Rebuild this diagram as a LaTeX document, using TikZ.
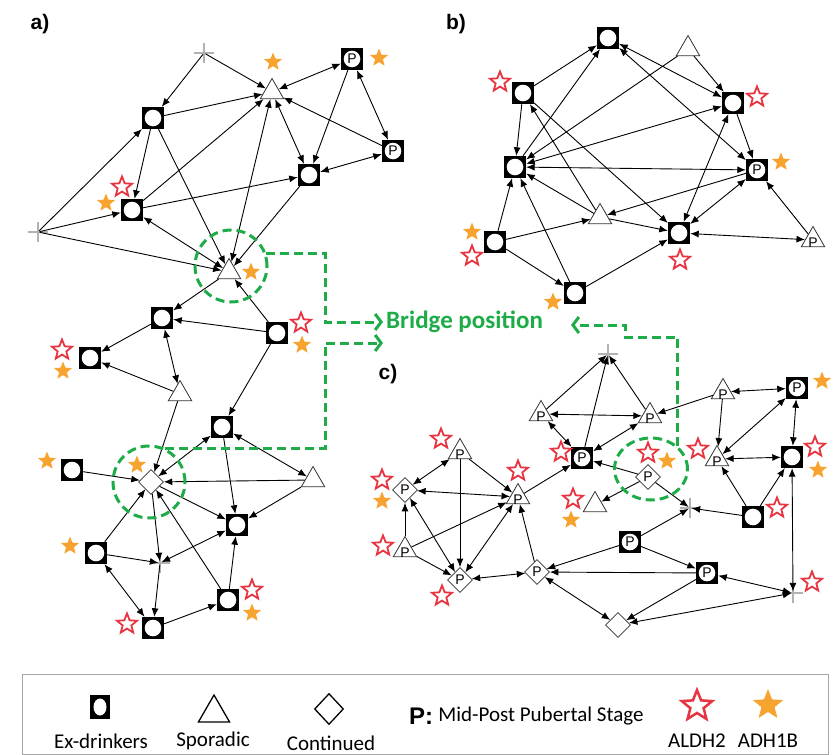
\documentclass[tikz,border=0pt]{standalone}
\usepackage{fontspec}
\setmainfont{Carlito}
\newfontfamily\arialfont{Liberation Sans}
\usetikzlibrary{arrows.meta,positioning,shapes.geometric}
\definecolor{aldhred}{RGB}{232,52,64}
\definecolor{adhorange}{RGB}{247,163,47}
\definecolor{bridgegreen}{RGB}{30,172,72}
\newcommand{\pmarkfont}{\arialfont\fontsize{14}{14}\selectfont}

\tikzset{
  exdrinker/.style={rectangle, fill=black, minimum size=22pt, inner sep=0pt, font=\pmarkfont,
    path picture={\fill[white] (path picture bounding box.center) circle (8.3pt);}},
  sporadic/.style={regular polygon, regular polygon sides=3, draw=black!80, fill=white,
    line width=0.8pt, minimum size=27pt, inner sep=0pt},
  ptri/.style={sporadic, label={[font=\pmarkfont, inner sep=0pt, yshift=-3pt]center:P}},
  continued/.style={diamond, draw=black!80, fill=white, line width=0.8pt, minimum size=25pt,
    inner sep=0pt, font=\pmarkfont},
  crossmark/.style={circle, inner sep=0pt, minimum size=3pt},
  crossline/.style={draw=gray!60, line width=1.2pt},
  aldh/.style={star, star points=5, star point ratio=2.3, draw=aldhred, line width=1.8pt,
    fill=white, minimum size=21pt, inner sep=0pt},
  adh/.style={star, star points=5, star point ratio=2.3, fill=adhorange, minimum size=19pt, inner sep=0pt},
  link/.style={-{Latex[length=8.5pt,width=7pt]}, line width=0.9pt},
  link2/.style={{Latex[length=8.5pt,width=7pt]}-{Latex[length=8.5pt,width=7pt]}, line width=0.9pt},
  ring/.style={draw=bridgegreen, line width=3pt, dash pattern=on 9pt off 5pt, inner sep=0pt},
  bridgeline/.style={draw=bridgegreen, line width=3pt, dash pattern=on 9pt off 5pt,
    -{Straight Barb[length=6pt,width=16pt]}},
  panellabel/.style={font=\arialfont\bfseries\fontsize{21}{21}\selectfont},
  legendtext/.style={font=\fontsize{21}{21}\selectfont, inner sep=1pt}
}

\begin{document}
\begin{tikzpicture}[x=1pt, y=-1pt]
  \useasboundingbox (0,0) rectangle (836,755);

  % Panel labels
  \node[panellabel] (lab_a) at (40,24) {a)};
  \node[panellabel] (lab_b) at (456,24) {b)};
  \node[panellabel] (lab_c) at (388,374) {c)};

  % ---- a) ----
  \node[crossmark] (a_x1) at (204,53) {};
  \node[sporadic] (a_t1) at (272,92) {};
  \node[exdrinker] (a_p1) at (352,59) {P};
  \node[exdrinker] (a_s1) at (153,118) {};
  \node[exdrinker] (a_p2) at (393,151) {P};
  \node[exdrinker] (a_s2) at (309,175) {};
  \node[exdrinker] (a_s3) at (132,210) {};
  \node[crossmark] (a_x2) at (38,232) {};
  \node[sporadic] (a_t2) at (229,272) {};
  \node[exdrinker] (a_s4) at (162,318) {};
  \node[exdrinker] (a_s5) at (277,333) {};
  \node[exdrinker] (a_s6) at (90,358) {};
  \node[sporadic] (a_t3) at (180,394) {};
  \node[exdrinker] (a_s7) at (222,427) {};
  \node[exdrinker] (a_s8) at (72,470) {};
  \node[continued] (a_d1) at (151,482) {};
  \node[sporadic] (a_t4) at (313,480) {};
  \node[exdrinker] (a_s9) at (237,525) {};
  \node[exdrinker] (a_s10) at (96,553) {};
  \node[crossmark] (a_x3) at (160,563) {};
  \node[exdrinker] (a_s11) at (228,600) {};
  \node[exdrinker] (a_s12) at (153,628) {};

  % ---- b) ----
  \node[exdrinker] (b_s1) at (608,38) {};
  \node[sporadic] (b_t1) at (688,49) {};
  \node[exdrinker] (b_s2) at (523,93) {};
  \node[exdrinker] (b_s3) at (733,103) {};
  \node[exdrinker] (b_s4) at (515,167) {};
  \node[exdrinker] (b_p1) at (757,170) {P};
  \node[sporadic] (b_t2) at (600,217) {};
  \node[exdrinker] (b_s5) at (495,242) {};
  \node[exdrinker] (b_s6) at (679,233) {};
  \node[ptri] (b_t3) at (813,240) {};
  \node[exdrinker] (b_s7) at (575,293) {};

  % ---- c) ----
  \node[crossmark] (c_x1) at (608,354) {};
  \node[ptri] (c_t1) at (541,414) {};
  \node[ptri] (c_t2) at (650,416) {};
  \node[ptri] (c_t3) at (723,392) {};
  \node[exdrinker] (c_p1) at (797,388) {P};
  \node[exdrinker] (c_p2) at (582,458) {P};
  \node[continued] (c_d1) at (648,477) {P};
  \node[ptri] (c_t4) at (717,459) {};
  \node[exdrinker] (c_s1) at (792,457) {};
  \node[ptri] (c_t5) at (460,452) {};
  \node[continued] (c_d2) at (405,490) {P};
  \node[ptri] (c_t6) at (518,497) {};
  \node[sporadic] (c_t7) at (595,505) {};
  \node[crossmark] (c_x2) at (690,508) {};
  \node[exdrinker] (c_s2) at (753,517) {};
  \node[ptri] (c_t8) at (405,550) {};
  \node[exdrinker] (c_p3) at (630,542) {P};
  \node[continued] (c_d3) at (460,580) {P};
  \node[continued] (c_d4) at (537,572) {P};
  \node[exdrinker] (c_p4) at (707,573) {P};
  \node[crossmark] (c_x3) at (793,593) {};
  \node[continued] (c_d5) at (618,625) {};

  % Crosses
  \foreach \c in {a_x1,a_x2,a_x3,c_x1,c_x2,c_x3}
    \draw[crossline] ([xshift=-10pt]\c.center) -- ([xshift=10pt]\c.center)
                     ([yshift=-10pt]\c.center) -- ([yshift=10pt]\c.center);

  % Links, one way
  \foreach \u/\v in {a_x1/a_s1, a_x1/a_t1, a_x2/a_s1, a_x2/a_s3, a_x2/a_t2, a_s1/a_s3, a_s1/a_t1,
      a_s1/a_t2, a_s3/a_t1, a_s3/a_s2, a_s2/a_t2, a_p1/a_s2, a_p2/a_t1, a_t2/a_s4, a_s5/a_t2,
      a_s5/a_s4, a_s4/a_s6, a_t3/a_s6, a_t3/a_d1, a_s5/a_s7, a_t4/a_d1, a_s7/a_s9, a_t4/a_s9,
      a_d1/a_s9, a_s8/a_d1, a_s10/a_d1, a_s10/a_x3, a_d1/a_x3, a_x3/a_s12, a_s12/a_s11,
      a_s11/a_s9, a_s11/a_d1,
      b_s2/b_s1, b_s4/b_s1, b_s2/b_s4, b_t1/b_s4, b_t1/b_s3, b_s2/b_s6, b_t2/b_s2, b_p1/b_t2,
      b_t2/b_s4, b_s5/b_s4, b_s5/b_t2, b_s5/b_s7, b_s7/b_s4, b_s7/b_s6, b_t2/b_s6, b_t3/b_p1,
      b_s3/b_p1,
      c_t1/c_x1, c_p2/c_x1, c_t2/c_x1, c_t3/c_t2, c_d1/c_p2, c_d1/c_t7, c_d1/c_x2, c_t3/c_t4,
      c_s2/c_t4, c_s2/c_s1, c_s2/c_x2, c_t5/c_t6, c_t5/c_d3, c_t8/c_d2, c_t8/c_t6, c_t8/c_d3,
      c_t6/c_p2, c_d4/c_t6, c_p3/c_d4, c_p3/c_x2, c_p3/c_p4, c_p4/c_d4, c_p4/c_d5}
    \draw[link] (\u) -- (\v);

  % Links, both ways
  \foreach \u/\v in {a_s3/a_t2, a_t2/a_t1, a_t1/a_s2, a_p1/a_t1, a_p1/a_p2, a_p2/a_s2,
      a_s4/a_t3, a_d1/a_s7, a_s7/a_t4, a_s9/a_x3, a_s10/a_s12,
      b_s1/b_s3, b_s1/b_p1, b_s3/b_s4, b_s4/b_p1, b_s6/b_s3, b_s6/b_p1, b_s6/b_t3,
      c_t1/c_t2, c_t1/c_p2, c_t2/c_p2, c_t3/c_p1, c_p1/c_t4, c_p1/c_s1, c_t4/c_s1, c_s1/c_x3,
      c_t5/c_d2, c_d2/c_t6, c_d2/c_d3, c_t6/c_d3, c_d3/c_d4, c_d4/c_d5, c_p4/c_x3, c_d5/c_x3}
    \draw[link2] (\u) -- (\v);

  % Gene markers
  \foreach \p [count=\i] in {(122,187), (301,323), (62,350), (252,590), (127,624),
      (500,82), (757,97), (472,256), (680,260),
      (561,452), (648,453), (698,449), (815,447), (441,439), (382,480), (518,471),
      (573,499), (777,508), (383,546), (442,596), (812,582)}
    \node[aldh] (red\i) at \p {};
  \foreach \p [count=\i] in {(273,62), (379,58), (106,203), (251,272), (302,345), (63,371),
      (47,461), (137,465), (70,546), (252,613),
      (781,162), (472,232), (553,302),
      (822,381), (667,461), (818,470), (382,501), (571,520)}
    \node[adh] (orange\i) at \p {};

  % Bridge position
  \node[ring, circle, minimum size=72pt] (ring_a) at (231,266) {};
  \node[ring, circle, minimum size=72pt] (ring_d) at (149,482) {};
  \node[ring, ellipse, minimum width=73pt, minimum height=62pt] (ring_c) at (651,469) {};
  \node[anchor=west, text=bridgegreen, font=\bfseries\fontsize{25}{25}\selectfont, inner sep=0pt]
    (bridge) at (386,322) {Bridge position};
  \coordinate (turn_up) at (325,322);
  \coordinate (turn_lo) at (325,343);
  \coordinate (bridge_lo) at (383,343);
  \coordinate (step_c) at (625,337);
  \coordinate (bridge_c) at (571,325);
  \draw[bridgeline] (ring_a.20) -| (turn_up) -- ([xshift=-3pt]bridge.west);
  \draw[bridgeline] (ring_d.65) -| (turn_lo) -- (bridge_lo);
  \draw[bridgeline] (ring_c.north east) |- (step_c) |- (bridge_c);

  % Legend
  \node[draw=gray!70, line width=1pt, minimum width=806pt, minimum height=80pt] (legendbox) at (425,714) {};
  \node[rectangle, fill=black, minimum width=20pt, minimum height=24pt, inner sep=0pt,
    path picture={\fill[white] (path picture bounding box.center) ellipse (6.5pt and 8.5pt);}] (leg_ex) at (100,707) {};
  \node[regular polygon, regular polygon sides=3, draw, line width=1.3pt, minimum size=36pt, inner sep=0pt] (leg_sp) at (214,713) {};
  \node[diamond, draw, line width=1.3pt, minimum width=29pt, minimum height=31pt, inner sep=0pt] (leg_co) at (329,709) {};
  \node[font=\arialfont\bfseries\fontsize{24}{24}\selectfont, inner sep=0pt] (leg_p) at (421,716) {P:};
  \node[legendtext, right=4pt of leg_p] (leg_ptext) {Mid-Post Pubertal Stage};
  \node[aldh, minimum size=32pt, line width=2.5pt] (leg_r) at (697,706) {};
  \node[adh, minimum size=32pt] (leg_o) at (768,705) {};
  \node[legendtext] (leg_ex_t) at (101,741) {Ex-drinkers};
  \node[legendtext] (leg_sp_t) at (213,741) {Sporadic};
  \node[legendtext] (leg_co_t) at (331,743) {Continued};
  \node[legendtext] (leg_r_t) at (697,741) {ALDH2};
  \node[legendtext] (leg_o_t) at (768,741) {ADH1B};
\end{tikzpicture}
\end{document}
